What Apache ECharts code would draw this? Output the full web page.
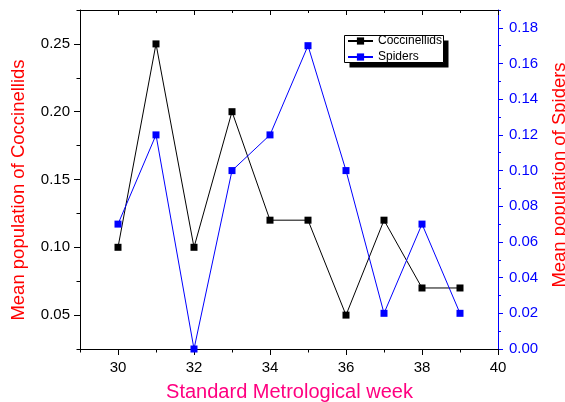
<!DOCTYPE html>
<html>
<head>
<meta charset="utf-8">
<script src="https://cdn.jsdelivr.net/npm/echarts@6/dist/echarts.min.js"></script>
<style>html,body{margin:0;padding:0;background:#fff;}#c{width:565px;height:402px;}</style>
</head>
<body>
<div id="c"></div>
<script>
const weeks = [30, 31, 32, 33, 34, 35, 36, 37, 38, 39];
const coccinellids = [0.10, 0.25, 0.10, 0.20, 0.12, 0.12, 0.05, 0.12, 0.07, 0.07];
const spiders = [0.07, 0.12, 0.00, 0.10, 0.12, 0.17, 0.10, 0.02, 0.07, 0.02];

const xMajorTicks = [30, 32, 34, 36, 38, 40];
const xMinorTicks = [29, 31, 33, 35, 37, 39];
const yLeftMajorTicks = [0.05, 0.10, 0.15, 0.20, 0.25];
const yLeftMinorTicks = [0.025, 0.075, 0.125, 0.175, 0.225, 0.275];
const yRightMajorTicks = [0.00, 0.02, 0.04, 0.06, 0.08, 0.10, 0.12, 0.14, 0.16, 0.18];
const yRightMinorTicks = [0.01, 0.03, 0.05, 0.07, 0.09, 0.11, 0.13, 0.15, 0.17, 0.19];

const FONT = 'Liberation Sans, Arial, sans-serif';
const chart = echarts.init(document.getElementById('c'), null, {renderer: 'canvas'});

function xAx(pos, ticks, len, inside, showLine, showLabel) {
  return {
    type: 'value', min: 29, max: 40, position: pos, gridIndex: 0,
    axisLine: {show: showLine, onZero: false, lineStyle: {color: '#000', width: 1}},
    axisTick: {show: true, inside: inside, length: len, customValues: ticks, lineStyle: {color: '#000', width: 1}},
    axisLabel: {show: showLabel, customValues: ticks, color: '#000', fontSize: 15, fontFamily: FONT, margin: 11},
    splitLine: {show: false}, minorTick: {show: false}
  };
}
function yAx(pos, min, max, color, ticks, len, showLine, showLabel, margin) {
  return {
    type: 'value', min: min, max: max, position: pos, gridIndex: 0,
    axisLine: {show: showLine, onZero: false, lineStyle: {color: color, width: 1}},
    axisTick: {show: true, inside: false, length: len, customValues: ticks, lineStyle: {color: color, width: 1}},
    axisLabel: {show: showLabel, customValues: ticks, color: color, fontSize: 15, fontFamily: FONT, margin: margin,
      formatter: v => Number(v).toFixed(2)},
    splitLine: {show: false}, minorTick: {show: false}
  };
}

chart.setOption({
  animation: false,
  backgroundColor: '#fff',
  grid: {left: 80, right: 67, top: 10, bottom: 53, outerBoundsMode: 'none', containLabel: false},
  xAxis: [
    xAx('bottom', xMajorTicks, 6, false, true, true),
    xAx('bottom', xMinorTicks, 3.5, false, false, false),
    xAx('top', xMajorTicks, 5, true, true, false),
    xAx('top', xMinorTicks, 3, true, false, false)
  ],
  yAxis: [
    yAx('left', 0.025, 0.275, '#000', yLeftMajorTicks, 6, true, true, 10),
    yAx('left', 0.025, 0.275, '#000', yLeftMinorTicks, 3.5, false, false, 10),
    yAx('right', 0, 0.19, '#0000ff', yRightMajorTicks, 5, true, true, 11),
    yAx('right', 0, 0.19, '#0000ff', yRightMinorTicks, 3, false, false, 11)
  ],
  legend: {
    left: 347, top: 34.5, orient: 'vertical', padding: 0, itemGap: 3,
    itemWidth: 25, itemHeight: 9,
    textStyle: {color: '#000', fontSize: 12, fontFamily: FONT, lineHeight: 13},
    data: ['Coccinellids', 'Spiders']
  },
  graphic: [
    {type: 'rect', z: 0, shape: {x: 349.5, y: 40.5, width: 99, height: 27}, style: {fill: '#000'}},
    {type: 'rect', z: 1, shape: {x: 344.5, y: 35.5, width: 99, height: 27}, style: {fill: '#fff', stroke: '#000', lineWidth: 1}},
    {type: 'text', x: 19, y: 190, rotation: Math.PI / 2,
      style: {text: 'Mean population of Coccinellids', fill: '#ff0000', font: '18.5px ' + FONT,
        align: 'center', verticalAlign: 'middle', textAlign: 'center', textVerticalAlign: 'middle'}},
    {type: 'text', x: 560, y: 175, rotation: Math.PI / 2,
      style: {text: 'Mean population of Spiders', fill: '#ff0000', font: '18.5px ' + FONT,
        align: 'center', verticalAlign: 'middle', textAlign: 'center', textVerticalAlign: 'middle'}},
    {type: 'text', x: 289.5, y: 392, 
      style: {text: 'Standard Metrological week', fill: '#ff0080', font: '20px ' + FONT,
        align: 'center', verticalAlign: 'middle', textAlign: 'center', textVerticalAlign: 'middle'}}
  ],
  series: [
    {
      name: 'Coccinellids', type: 'line', xAxisIndex: 0, yAxisIndex: 0,
      data: weeks.map((w, i) => [w, coccinellids[i]]),
      symbol: 'rect', symbolSize: 7, showAllSymbol: true,
      itemStyle: {color: '#000'}, lineStyle: {color: '#000', width: 1}, z: 3
    },
    {
      name: 'Spiders', type: 'line', xAxisIndex: 0, yAxisIndex: 2,
      data: weeks.map((w, i) => [w, spiders[i]]),
      symbol: 'rect', symbolSize: 7, showAllSymbol: true, clip: false,
      itemStyle: {color: '#0000ff'}, lineStyle: {color: '#0000ff', width: 1}, z: 3
    }
  ]
});
</script>
</body>
</html>
